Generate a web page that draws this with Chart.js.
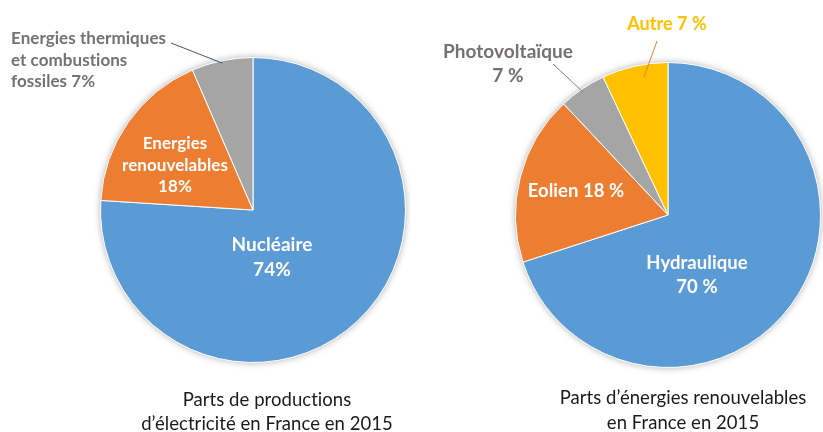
<!DOCTYPE html>
<html>
<head>
<meta charset="utf-8">
<script src="https://cdn.jsdelivr.net/npm/chart.js@4.4.1/dist/chart.umd.min.js"></script>
<style>
  html, body { margin: 0; padding: 0; background: #ffffff; }
  body { width: 823px; height: 432px; position: relative; overflow: hidden; }
  .box { position: absolute; top: 0; height: 432px; }
  #leftBox { left: 0; width: 411px; }
  #rightBox { left: 411px; width: 412px; }
</style>
</head>
<body>
<div class="box" id="leftBox"><canvas id="prodChart" width="411" height="432"></canvas></div>
<div class="box" id="rightBox"><canvas id="renewChart" width="412" height="432"></canvas></div>
<script>
// production d'electricite 2015 (slice sizes)
const prodCategories = ['Nucléaire', 'Energies renouvelables', 'Energies thermiques et combustions fossiles'];
const prodValues = [76, 17.5, 6.5];
const prodLabels = [['Nucléaire', '74%'], ['Energies', 'renouvelables', '18%'], ['Energies thermiques', 'et combustions', 'fossiles 7%']];
const prodTitle = ['Parts de productions', 'd\u2019électricité en France en 2015'];

// energies renouvelables 2015
const renewCategories = ['Hydraulique', 'Eolien', 'Photovoltaïque', 'Autre'];
const renewValues = [70, 18, 5, 7];
const renewLabels = [['Hydraulique', '70 %'], ['Eolien 18 %'], ['Photovoltaïque', '7 %'], ['Autre 7 %']];
const renewTitle = ['Parts d\u2019énergies renouvelables', 'en France en 2015'];

const BLUE = '#5b9bd5', ORANGE = '#ed7d31', GRAY = '#a5a5a5', YELLOW = '#ffc000';
const FONT = 'Lato, "Open Sans", sans-serif';

// label placement, offsets from the pie centre in px
const prodLayout = {
    labels: [
        { dx: 19, dy: 41, lh: 25, size: 19, color: '#ffffff', align: 'center' },
        { dx: -78, dy: -61, lh: 21.5, size: 17, color: '#ffffff', align: 'center' },
        { dx: -242, dy: -166, lh: 21.7, size: 17, color: '#767171', align: 'left' }
    ],
    leaders: [
        { from: [-82, -167], to: [-31, -147], color: '#44546a' }
    ],
    title: { dx: 14, dy: 196, lh: 24 }
};
const renewLayout = {
    labels: [
        { dx: 29, dy: 54, lh: 23.7, size: 18.5, color: '#ffffff', align: 'center' },
        { dx: -92, dy: -18, lh: 24, size: 18.5, color: '#ffffff', align: 'center' },
        { dx: -160, dy: -157, lh: 24.4, size: 19, color: '#767171', align: 'center' },
        { dx: -1, dy: -185, lh: 24, size: 18, color: '#ffc000', align: 'center' }
    ],
    leaders: [
        { from: [-115, -151], to: [-85, -123], color: '#7f7f7f' },
        { from: [-11, -174], to: [-24, -138], color: '#ed7d31' }
    ],
    title: { dx: 15, dy: 189, lh: 25 }
};

// soft shadow behind the pie
const pieShadow = {
    id: 'pieShadow',
    beforeDatasetsDraw(chart) {
        const arc = chart.getDatasetMeta(0).data[0];
        if (!arc) return;
        const ctx = chart.ctx;
        ctx.save();
        ctx.shadowColor = 'rgba(0,0,0,0.35)';
        ctx.shadowBlur = 7;
        ctx.fillStyle = '#ffffff';
        ctx.beginPath();
        ctx.arc(arc.x, arc.y, arc.outerRadius, 0, Math.PI * 2);
        ctx.fill();
        ctx.restore();
    }
};

const pieText = {
    id: 'pieText',
    afterDatasetsDraw(chart, args, opts) {
        const arc = chart.getDatasetMeta(0).data[0];
        if (!arc) return;
        const ctx = chart.ctx;
        const cx = arc.x, cy = arc.y;
        const lay = opts.layout;
        ctx.save();
        lay.leaders.forEach(l => {
            ctx.strokeStyle = l.color;
            ctx.lineWidth = 1;
            ctx.beginPath();
            ctx.moveTo(cx + l.from[0], cy + l.from[1]);
            ctx.lineTo(cx + l.to[0], cy + l.to[1]);
            ctx.stroke();
        });
        ctx.textBaseline = 'alphabetic';
        // small non-zero spacing keeps Lato from joining "ti"
        if ('letterSpacing' in ctx) ctx.letterSpacing = '0.05px';
        opts.labels.forEach((lines, i) => {
            const p = lay.labels[i];
            ctx.font = 'bold ' + p.size + 'px ' + FONT;
            ctx.fillStyle = p.color;
            ctx.textAlign = p.align;
            lines.forEach((t, j) => ctx.fillText(t, cx + p.dx, cy + p.dy + j * p.lh));
        });
        ctx.font = '18.5px ' + FONT;
        ctx.fillStyle = '#1a1a1a';
        ctx.textAlign = 'center';
        opts.title.forEach((t, j) => ctx.fillText(t, cx + lay.title.dx, cy + lay.title.dy + j * lay.title.lh));
        ctx.restore();
    }
};

function makePie(id, cats, vals, colors, labels, title, layout, padding) {
    const ctx = document.getElementById(id).getContext('2d');
    return new Chart(ctx, {
        type: 'pie',
        data: {
            labels: cats,
            datasets: [{
                data: vals,
                backgroundColor: colors,
                borderColor: '#ffffff',
                borderWidth: 1
            }]
        },
        options: {
            responsive: false,
            animation: false,
            devicePixelRatio: 1,
            layout: { padding: padding },
            plugins: {
                legend: { display: false },
                tooltip: { enabled: false },
                pieText: { labels: labels, title: title, layout: layout }
            }
        },
        plugins: [pieShadow, pieText]
    });
}

makePie('prodChart', prodCategories, prodValues, [BLUE, ORANGE, GRAY], prodLabels, prodTitle, prodLayout,
    { left: 100, right: 5, top: 57, bottom: 69 });
makePie('renewChart', renewCategories, renewValues, [BLUE, ORANGE, GRAY, YELLOW], renewLabels, renewTitle, renewLayout,
    { left: 104, right: 2, top: 62, bottom: 64 });
</script>
</body>
</html>
